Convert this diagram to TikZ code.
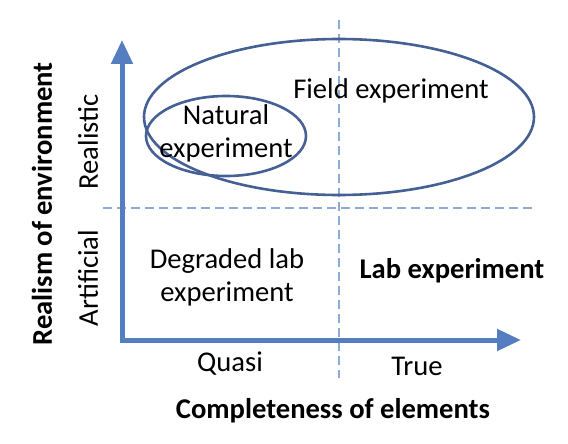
\documentclass[tikz,border=0pt]{standalone}
\usepackage{fontspec}
\setmainfont{Carlito}
\usetikzlibrary{arrows.meta}
\definecolor{axisblue}{RGB}{84, 126, 192}
\definecolor{ringblue}{RGB}{68, 96, 148}
\definecolor{gridblue}{RGB}{142, 170, 214}

\begin{document}
\begin{tikzpicture}[
    x=1pt, y=-1pt,
    every node/.style={font=\fontsize{28.6}{33}\selectfont, align=center, inner sep=0pt},
    axisline/.style={line width=5pt, draw=axisblue, -{Triangle[length=24pt, width=21pt]}},
    gridline/.style={draw=gridblue, line width=1.2pt, dash pattern=on 9pt off 5pt},
    ring/.style={draw=ringblue, line width=2.6pt}
]
\useasboundingbox (0,0) rectangle (568,444);

% Quadrant dividers
\coordinate (hl) at (103,208);
\coordinate (hr) at (533,208);
\coordinate (vt) at (339,20);
\coordinate (vb) at (339,378);
\draw[gridline] (hl) -- (hr);
\draw[gridline] (vt) -- (vb);

% Experiment regions
\draw[ring] (339,117) ellipse [x radius=195, y radius=78];
\draw[ring] (226,136) ellipse [x radius=80, y radius=40];

% Axes
\coordinate (origin) at (122,340);
\coordinate (ytip) at (122,40);
\coordinate (xtip) at (521,340);
\draw[axisline] (122,342.5) -- (ytip);
\draw[axisline] (119.5,340) -- (xtip);

% Quadrant labels
\node (field) at (391,91) {Field experiment};
\node (natural) at (226,133) {Natural\\experiment};
\node (degraded) at (227,277) {Degraded lab\\experiment};
\node[font=\fontsize{28.6}{33}\selectfont\bfseries] (lab) at (452,271) {Lab experiment};

% Axis ticks
\node (quasi) at (230,364) {Quasi};
\node (true) at (417,366) {True};
\node[rotate=90] (realistic) at (88,142) {Realistic};
\node[rotate=90] (artificial) at (88,278) {Artificial};

% Axis titles
\node[font=\fontsize{28.6}{33}\selectfont\bfseries] (xtitle) at (333,411) {Completeness of elements};
\node[rotate=90, font=\fontsize{28.6}{33}\selectfont\bfseries] (ytitle) at (42,204) {Realism of environment};

\end{tikzpicture}
\end{document}
